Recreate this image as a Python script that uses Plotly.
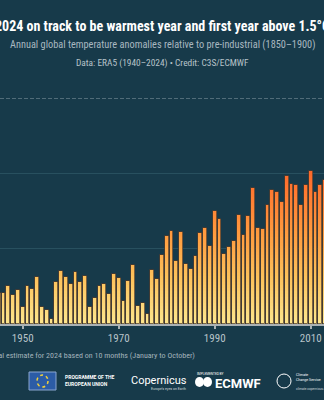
import plotly.graph_objects as go
import numpy as np

# ---------------- data ----------------
years = list(range(1945, 2014))
anomaly = [0.209, 0.209, 0.253, 0.193, 0.227, 0.116, 0.249, 0.233, 0.309, 0.113,
           0.091, 0.033, 0.282, 0.349, 0.313, 0.267, 0.344, 0.282, 0.320, 0.111,
           0.173, 0.249, 0.264, 0.202, 0.331, 0.304, 0.151, 0.287, 0.389, 0.118,
           0.138, 0.069, 0.356, 0.298, 0.456, 0.584, 0.620, 0.420, 0.613, 0.400,
           0.362, 0.449, 0.607, 0.638, 0.518, 0.753, 0.696, 0.462, 0.509, 0.549,
           0.722, 0.591, 0.716, 0.902, 0.636, 0.631, 0.793, 0.889, 0.876, 0.813,
           0.980, 0.929, 0.922, 0.789, 0.922, 1.016, 0.873, 0.924, 0.953]
tick_years = [1950, 1970, 1990, 2010]
tick_text = ["1950", "1970", "1990", "2010"]
threshold = 1.5

title = "2024 on track to be warmest year and first year above 1.5°C"
subtitle = "Annual global temperature anomalies relative to pre-industrial (1850–1900)"
source = "Data: ERA5 (1940–2024) • Credit: C3S/ECMWF"
footnote = "Provisional estimate for 2024 based on 10 months (January to October)"

# ---------------- style ----------------
W, H = 324, 400
BG = "#173a4a"
COND = "Roboto Condensed, Liberation Sans Narrow, DejaVu Sans Condensed, Roboto, sans-serif"

stops = [(0.0, (253, 230, 142)), (0.3, (253, 195, 92)), (0.6, (255, 155, 62)),
         (0.9, (255, 118, 48)), (1.05, (250, 100, 42)), (1.6, (230, 70, 35))]


def grad(v):
    for (a, ca), (b, cb) in zip(stops[:-1], stops[1:]):
        if v <= b:
            t = (v - a) / (b - a)
            c = [round(ca[i] + (cb[i] - ca[i]) * t) for i in range(3)]
            return "rgb(%d,%d,%d)" % tuple(c)
    return "rgb(%d,%d,%d)" % stops[-1][1]


fig = go.Figure()
vals = np.array(anomaly)
step = 0.02
levels = np.arange(step, vals.max() + step, step)[::-1]
for top in levels:
    fig.add_trace(go.Bar(x=years, y=np.minimum(vals, top), width=0.8,
                         marker=dict(color=grad(top - step / 2), line=dict(width=0)),
                         hoverinfo="skip", showlegend=False))
fig.add_trace(go.Bar(x=years, y=anomaly, width=0.8,
                     marker=dict(color="rgba(0,0,0,0)",
                                 line=dict(color="rgba(80,60,45,0.75)", width=1)),
                     showlegend=False))

ML, MR, MT, MB = 0, 0, 98, 76


def px(x):
    return x / W


def py(y):
    return (H - MB - y) / (H - MT - MB)


ann = []


def text(x, y, s, size, color, family="Roboto, sans-serif", xanchor="center", bold=False):
    if bold:
        s = "<b>" + s + "</b>"
    ann.append(dict(x=px(x), y=py(y), xref="paper", yref="paper", text=s, showarrow=False,
                    xanchor=xanchor, yanchor="middle", align="left",
                    font=dict(size=size, color=color, family=family)))


text(162, 26, title, 14, "#ffffff", COND, bold=True)
text(162, 44, subtitle, 10.3, "#a9b8c0", COND)
text(162, 63, source, 9.4, "#b7c3c9", COND)
text(197, 355, footnote, 8, "#a3b3bb", COND, xanchor="right")
# logo row
text(63, 380, "PROGRAMME OF THE<br>EUROPEAN UNION", 5, "#ffffff", bold=True, xanchor="left")
text(159, 380, "Copernicus", 11, "#ffffff", "Roboto, sans-serif")
text(168, 389, "Europe's eyes on Earth", 3.5, "#cfd8dc")
text(195, 374, "IMPLEMENTED BY", 3.2, "#ffffff", xanchor="left")
text(213, 383, "ECMWF", 13, "#ffffff", bold=True, xanchor="left")
text(294, 377, "Climate<br>Change Service", 3.6, "#ffffff", xanchor="left")
text(294, 389, "climate.copernicus.eu", 3.2, "#cfd8dc", xanchor="left")

shapes = [
    dict(type="line", xref="paper", yref="y", x0=0, x1=1, y0=threshold, y1=threshold,
         line=dict(color="#8c9ea8", width=1, dash="4px,2px")),
    dict(type="rect", xref="paper", yref="paper", x0=px(29), x1=px(56), y0=py(390), y1=py(372),
         fillcolor="#2c5ca6", line=dict(color="#8aa5cf", width=1)),
    dict(type="circle", xref="paper", yref="paper", x0=px(37), x1=px(48), y0=py(387), y1=py(375),
         line=dict(color="#f2d13a", width=1.5, dash="dot")),
    dict(type="circle", xref="paper", yref="paper", x0=px(195), x1=px(204), y0=py(387), y1=py(377),
         fillcolor="#ffffff", line=dict(width=0)),
    dict(type="circle", xref="paper", yref="paper", x0=px(203), x1=px(212), y0=py(387), y1=py(377),
         fillcolor="#ffffff", line=dict(width=0)),
    dict(type="circle", xref="paper", yref="paper", x0=px(277), x1=px(291), y0=py(388), y1=py(374),
         line=dict(color="#ffffff", width=1)),
]

fig.update_layout(
    width=W, height=H, margin=dict(l=ML, r=MR, t=MT, b=MB),
    paper_bgcolor=BG, plot_bgcolor=BG, barmode="overlay", bargap=0,
    showlegend=False, annotations=ann, shapes=shapes,
    xaxis=dict(range=[1945.27, 2012.77], tickvals=tick_years, ticktext=tick_text,
               showgrid=False, zeroline=False, showline=True, linecolor="#a9b1b5",
               linewidth=2, ticks="outside", ticklen=3, tickwidth=2, tickcolor="#a9b1b5",
               tickfont=dict(size=11, color="#b7c3c9", family=COND)),
    yaxis=dict(range=[0, 1.5], tickvals=[0.5, 1.0], showticklabels=False,
               gridcolor="#28505f", gridwidth=1, zeroline=False, showline=False),
)

fig.write_html("out.html")
